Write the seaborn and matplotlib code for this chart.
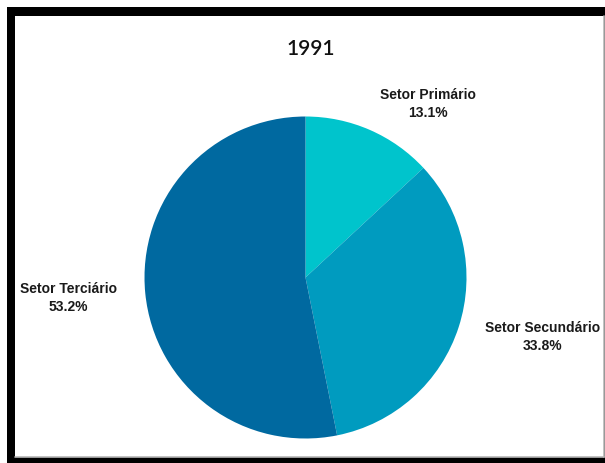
import matplotlib
matplotlib.use("Agg")
import matplotlib.pyplot as plt
import seaborn as sns
from matplotlib.patches import Rectangle

# ---- data ----
title = "1991"
categories = ["Setor Primário", "Setor Secundário", "Setor Terciário"]
values = [13.1, 33.8, 53.2]
colors = ["#00C4CC", "#009BBF", "#0069A0"]

# ---- layout (pixel-based canvas) ----
W, H = 605, 464
sns.set_theme(style="white")
plt.rcParams['font.family'] = ['Liberation Sans', 'DejaVu Sans']

fig = plt.figure(figsize=(W / 100, H / 100), dpi=100)
fig.patch.set_facecolor("white")
ax = fig.add_axes([0, 0, 1, 1])

# frame
ax.add_patch(Rectangle((7, -10), W + 20, 456 + 10, facecolor="black", edgecolor="none", zorder=0))
ax.add_patch(Rectangle((15, 6), 588.5, 441, facecolor="white", edgecolor="none", zorder=1))
ax.plot([603.5, 603.5], [6, 447], color="#b8b8b8", linewidth=1.2, zorder=1.5)
ax.plot([15, 603.5], [6, 6], color="#b8b8b8", linewidth=1.2, zorder=1.5)

# pie
palette = sns.color_palette(colors)
wedges, _ = ax.pie(values, colors=palette, startangle=90, counterclock=False,
                   center=(305.5, 185.5), radius=161, frame=True,
                   wedgeprops=dict(linewidth=0))
for w in wedges:
    w.set_zorder(2)
ax.set_xlim(0, W)
ax.set_ylim(0, H)
ax.axis("off")

# labels
label_pos = {"Setor Primário": (428, 360), "Setor Secundário": (543, 127), "Setor Terciário": (68, 166)}
for cat, val in zip(categories, values):
    x, y = label_pos[cat]
    ax.text(x, y, f"{cat}\n{val:.1f}%", ha="center", va="center", fontsize=10,
            fontweight="bold", color="#1a1a1a", linespacing=1.35, zorder=3)

ax.text(311, 415, title, ha="center", va="center", fontsize=15, fontweight="semibold",
        family=["Lato", "DejaVu Sans"], color="#111111", zorder=3)

fig.savefig("out.png", dpi=100)
